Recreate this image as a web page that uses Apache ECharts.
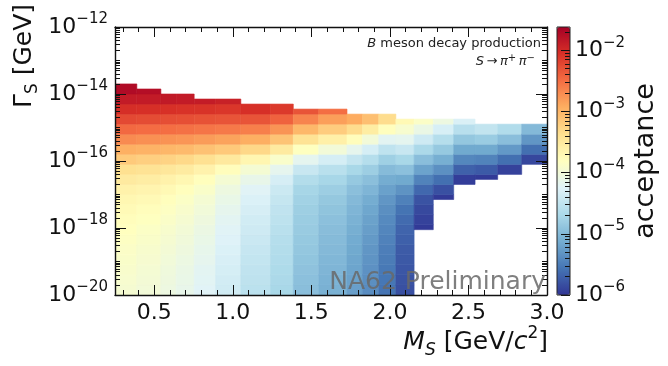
<!DOCTYPE html>
<html>
<head>
<meta charset="utf-8">
<script src="https://cdn.jsdelivr.net/npm/echarts@6/dist/echarts.min.js"></script>
<style>
html,body{margin:0;padding:0;background:#fff;}
#chart{width:668px;height:366px;}
</style>
</head>
<body>
<div id="chart"></div>
<script>
// 质量分箱边界 M_S [GeV/c^2]
var massEdges = [0.25, 0.389, 0.542, 0.639, 0.754, 0.890, 1.051, 1.240, 1.385, 1.547, 1.727,
    1.825, 1.929, 2.038, 2.154, 2.276, 2.406, 2.542, 2.686, 2.839, 3.0];
// log10(Gamma_S) 分箱边界
var gammaEdges = [-20, -19.7, -19.4, -19.1, -18.8, -18.5, -18.2, -17.9, -17.6, -17.3, -17.0,
    -16.7, -16.4, -16.1, -15.8, -15.5, -15.2, -14.9, -14.6, -14.3, -14.0, -13.7];
// 每一列的上下边界 (log10 Gamma)
var colTop = [-13.7, -13.85, -14.0, -14.0, -14.15, -14.15, -14.3, -14.3, -14.45, -14.45,
    -14.6, -14.6, -14.6, -14.75, -14.75, -14.75, -14.75, -14.9, -14.9, -14.9];
var colBottom = [-20, -20, -20, -20, -20, -20, -20, -20, -20, -20, -20, -20, -20, -20,
    -18.05, -17.15, -16.7, -16.55, -16.4, -16.1];
// log10(acceptance)，每列从最下面一行开始
var logAcc = [
    [-3.95, -3.93, -3.91, -3.89, -3.87, -3.84, -3.81, -3.78, -3.74, -3.69, -3.62, -3.52, -3.38, -3.18, -2.95, -2.7, -2.47, -2.24, -2.04, -1.87, -1.72],
    [-4.0, -3.98, -3.96, -3.94, -3.92, -3.89, -3.86, -3.82, -3.78, -3.73, -3.66, -3.56, -3.42, -3.22, -2.98, -2.73, -2.49, -2.26, -2.05, -1.87, -1.75],
    [-4.07, -4.05, -4.03, -4.01, -3.98, -3.95, -3.92, -3.88, -3.84, -3.79, -3.72, -3.62, -3.47, -3.26, -3.01, -2.75, -2.5, -2.27, -2.06, -1.86],
    [-4.14, -4.12, -4.1, -4.08, -4.05, -4.02, -3.99, -3.95, -3.91, -3.86, -3.79, -3.69, -3.53, -3.31, -3.04, -2.77, -2.52, -2.28, -2.07, -1.87],
    [-4.24, -4.22, -4.2, -4.17, -4.15, -4.12, -4.09, -4.05, -4.01, -3.96, -3.89, -3.79, -3.63, -3.39, -3.1, -2.81, -2.55, -2.3, -2.08, -1.88],
    [-4.38, -4.36, -4.34, -4.31, -4.29, -4.26, -4.23, -4.2, -4.16, -4.12, -4.06, -3.96, -3.78, -3.5, -3.17, -2.86, -2.58, -2.32, -2.1, -1.92],
    [-4.55, -4.53, -4.51, -4.49, -4.46, -4.43, -4.4, -4.37, -4.33, -4.29, -4.23, -4.13, -3.96, -3.68, -3.3, -2.94, -2.62, -2.32, -2.05],
    [-4.7, -4.68, -4.66, -4.64, -4.62, -4.6, -4.57, -4.54, -4.51, -4.47, -4.42, -4.33, -4.17, -3.9, -3.52, -3.12, -2.76, -2.42, -2.12],
    [-4.95, -4.93, -4.91, -4.89, -4.87, -4.85, -4.83, -4.81, -4.79, -4.76, -4.72, -4.62, -4.45, -4.18, -3.82, -3.42, -3.02, -2.65, -2.32],
    [-5.08, -5.06, -5.04, -5.02, -5.0, -4.98, -4.96, -4.93, -4.9, -4.86, -4.8, -4.71, -4.57, -4.34, -4.0, -3.6, -3.2, -2.83, -2.5],
    [-5.23, -5.21, -5.19, -5.17, -5.15, -5.13, -5.1, -5.07, -5.04, -5.0, -4.94, -4.85, -4.7, -4.48, -4.16, -3.78, -3.35, -2.92],
    [-5.38, -5.36, -5.34, -5.32, -5.3, -5.27, -5.24, -5.21, -5.17, -5.12, -5.04, -4.94, -4.8, -4.6, -4.34, -4.0, -3.55, -3.08],
    [-5.57, -5.55, -5.53, -5.51, -5.49, -5.46, -5.43, -5.4, -5.36, -5.3, -5.22, -5.12, -4.98, -4.78, -4.52, -4.2, -3.8, -3.35],
    [-5.82, -5.8, -5.78, -5.76, -5.74, -5.71, -5.68, -5.63, -5.57, -5.47, -5.33, -5.15, -4.93, -4.7, -4.45, -4.18, -3.93, -3.72],
    [null, null, null, null, null, null, -5.97, -5.92, -5.87, -5.8, -5.65, -5.45, -5.2, -4.95, -4.68, -4.4, -4.1, -3.87],
    [null, null, null, null, null, null, null, null, null, -5.97, -5.82, -5.6, -5.35, -5.1, -4.85, -4.6, -4.32, -4.07],
    [null, null, null, null, null, null, null, null, null, null, null, -5.95, -5.7, -5.42, -5.15, -4.87, -4.58, -4.3],
    [null, null, null, null, null, null, null, null, null, null, null, -5.97, -5.75, -5.45, -5.15, -4.82, -4.5],
    [null, null, null, null, null, null, null, null, null, null, null, null, -5.92, -5.6, -5.28, -4.95, -4.64],
    [null, null, null, null, null, null, null, null, null, null, null, null, null, -5.88, -5.6, -5.3, -5.0]
];
// 刻度
var xMajor = [0.5, 1.0, 1.5, 2.0, 2.5, 3.0];
var xMinor = [0.3, 0.4, 0.6, 0.7, 0.8, 0.9, 1.1, 1.2, 1.3, 1.4, 1.6, 1.7, 1.8, 1.9,
    2.1, 2.2, 2.3, 2.4, 2.6, 2.7, 2.8, 2.9];
var yLabelExp = [-20, -18, -16, -14, -12];
var cbLabelExp = [-6, -5, -4, -3, -2];
var cbMin = -6, cbMax = -1.62;

var RdYlBu_r = ['#313695', '#4575b4', '#74add1', '#abd9e9', '#e0f3f8', '#ffffbf',
    '#fee090', '#fdae61', '#f46d43', '#d73027', '#a50026'];

var FONT = 'DejaVu Sans';

function pows(exps) {
    return exps.map(function (e) { return Math.pow(10, e); });
}
// 次刻度：2..9 倍，主刻度不是每个十进位时把奇数十进位也算进来
function minors(e0, e1, maxV, skipExps) {
    var arr = [];
    for (var e = e0; e < e1; e++) {
        for (var k = 1; k <= 9; k++) {
            if (k == 1 && skipExps.indexOf(e) >= 0) continue;
            var v = k * Math.pow(10, e);
            if (v <= maxV) arr.push(v);
        }
    }
    return arr;
}
function supLabel(v) {
    var e = Math.round(Math.log10(v));
    return '{b|10}{s|\u2212' + Math.abs(e) + '}';
}
var supRich = {
    b: {fontSize: 22, lineHeight: 30, fontFamily: FONT, color: '#111'},
    s: {fontSize: 15, lineHeight: 15, verticalAlign: 'top', fontFamily: FONT, color: '#111'}
};

// 组装单元格
function buildCells() {
    var cells = [];
    for (var c = 0; c < logAcc.length; c++) {
        for (var r = 0; r < logAcc[c].length; r++) {
            var v = logAcc[c][r];
            if (v == null) continue;
            var g0 = Math.max(gammaEdges[r], colBottom[c]);
            var g1 = Math.min(gammaEdges[r + 1], colTop[c]);
            if (g1 <= g0) continue;
            cells.push([massEdges[c], massEdges[c + 1], Math.pow(10, g0), Math.pow(10, g1), v]);
        }
    }
    return cells;
}

function renderCell(params, api) {
    var p0 = api.coord([api.value(0), api.value(3)]);
    var p1 = api.coord([api.value(1), api.value(2)]);
    var col = api.visual('color');
    return {
        type: 'rect',
        shape: {x: p0[0], y: p0[1], width: p1[0] - p0[0], height: p1[1] - p0[1]},
        style: {fill: col, stroke: col, lineWidth: 0.6}
    };
}

function tickAxis(type, grid, pos, vals, len, withLine) {
    var ax = {
        type: type, gridIndex: grid, position: pos, z: 5,
        axisLine: {show: withLine, onZero: false, lineStyle: {color: '#111', width: 1.4}},
        axisTick: {show: true, inside: true, length: len, customValues: vals,
            lineStyle: {color: '#111', width: 1}},
        axisLabel: {show: false},
        splitLine: {show: false}
    };
    return ax;
}

function drawChart(elem) {
    var myChart = echarts.init(document.getElementById(elem));
    var yMax = Math.pow(10, -12), yMin = Math.pow(10, -20);
    var cbTop = Math.pow(10, cbMax), cbBot = Math.pow(10, cbMin);
    var yMinorVals = minors(-20, -12, 1, yLabelExp);

    var xAxes = [];
    var xb = tickAxis('value', 0, 'bottom', xMajor, 10, true);
    xb.axisLabel = {show: true, customValues: xMajor, fontSize: 22, color: '#111', fontFamily: FONT, margin: 7,
        formatter: function (v) { return v.toFixed(1); }};
    xAxes.push(xb);
    xAxes.push(tickAxis('value', 0, 'bottom', xMinor, 5, false));
    xAxes.push(tickAxis('value', 0, 'top', xMajor, 10, true));
    xAxes.push(tickAxis('value', 0, 'top', xMinor, 5, false));
    for (var i = 0; i < 4; i++) { xAxes[i].min = 0.25; xAxes[i].max = 3.0; }
    xAxes.push({type: 'value', gridIndex: 1, min: 0, max: 1, show: false});

    var yAxes = [];
    var yl = tickAxis('log', 0, 'left', pows(yLabelExp), 11, true);
    yl.axisLabel = {show: true, customValues: pows(yLabelExp), margin: 7, formatter: supLabel, rich: supRich};
    yAxes.push(yl);
    yAxes.push(tickAxis('log', 0, 'left', yMinorVals, 5, false));
    yAxes.push(tickAxis('log', 0, 'right', pows(yLabelExp), 11, true));
    yAxes.push(tickAxis('log', 0, 'right', yMinorVals, 5, false));
    for (var j = 0; j < 4; j++) { yAxes[j].min = yMin; yAxes[j].max = yMax; }

    var cb = tickAxis('log', 1, 'right', pows(cbLabelExp), 9, false);
    cb.axisLabel = {show: true, customValues: pows(cbLabelExp), margin: 5, formatter: supLabel, rich: supRich};
    cb.min = cbBot; cb.max = cbTop; cb.z = 10;
    yAxes.push(cb);
    var cbm = tickAxis('log', 1, 'right', minors(-6, -1, cbTop, cbLabelExp), 5, false);
    cbm.min = cbBot; cbm.max = cbTop; cbm.z = 10;
    yAxes.push(cbm);

    var option = {
        backgroundColor: '#fff',
        animation: false,
        grid: [
            {left: 115, top: 27, width: 432, height: 268},
            {left: 557, top: 27, width: 13, height: 268}
        ],
        xAxis: xAxes,
        yAxis: yAxes,
        visualMap: {
            type: 'continuous',
            min: cbMin, max: cbMax,
            dimension: 4,
            seriesIndex: 0,
            calculable: false,
            realtime: false,
            left: 557, top: 27,
            itemWidth: 13, itemHeight: 268,
            padding: 0,
            text: null,
            showLabel: false,
            inRange: {color: RdYlBu_r}
        },
        series: [{
            type: 'custom',
            xAxisIndex: 0, yAxisIndex: 0,
            renderItem: renderCell,
            encode: {x: [0, 1], y: [2, 3]},
            clip: true,
            z: 2,
            data: buildCells()
        }],
        graphic: [
            {type: 'rect', z: 100, shape: {x: 557, y: 27, width: 13, height: 268},
                style: {fill: 'none', stroke: '#222', lineWidth: 1}},
            {type: 'text', z: 100, x: 24, y: 56, rotation: Math.PI / 2,
                style: {text: '{g|\u0393}{s|S} [GeV]', font: '25px "DejaVu Sans"', fill: '#111',
                    textAlign: 'center', textVerticalAlign: 'middle',
                    rich: {
                        g: {fontSize: 25, lineHeight: 34, fontFamily: FONT, fill: '#111'},
                        s: {fontSize: 17, lineHeight: 17, verticalAlign: 'bottom', fontFamily: FONT, fill: '#111'}
                    }}},
            {type: 'text', z: 100, x: 548, y: 342,
                style: {text: '{i|M}{s|S} [GeV/{i|c}{p|2}]', font: '25px "DejaVu Sans"', fill: '#111',
                    textAlign: 'right', textVerticalAlign: 'middle',
                    rich: {
                        i: {fontSize: 25, lineHeight: 34, fontStyle: 'italic', fontFamily: FONT, fill: '#111'},
                        s: {fontSize: 17, lineHeight: 17, verticalAlign: 'bottom', fontStyle: 'italic', fontFamily: FONT, fill: '#111'},
                        p: {fontSize: 17, lineHeight: 17, verticalAlign: 'top', fontFamily: FONT, fill: '#111'}
                    }}},
            {type: 'text', z: 100, x: 646, y: 161, rotation: Math.PI / 2,
                style: {text: 'acceptance', font: '27px "DejaVu Sans"', fill: '#111',
                    textAlign: 'center', textVerticalAlign: 'middle'}},
            {type: 'text', z: 100, x: 541, y: 44,
                style: {text: '{i|B} meson decay production', font: '13px "DejaVu Sans"', fill: '#222',
                    textAlign: 'right', textVerticalAlign: 'middle',
                    rich: {i: {fontSize: 13, fontStyle: 'italic', fontFamily: FONT, fill: '#222'}}}},
            {type: 'text', z: 100, x: 535, y: 62,
                style: {text: '{i|S}\u2009\u2192\u2009{i|\u03c0}{p|+}\u2009{i|\u03c0}{p|\u2212}', font: '13px "DejaVu Sans"', fill: '#222',
                    textAlign: 'right', textVerticalAlign: 'middle',
                    rich: {
                        i: {fontSize: 13, lineHeight: 17, fontStyle: 'italic', fontFamily: FONT, fill: '#222'},
                        p: {fontSize: 10, lineHeight: 10, verticalAlign: 'top', fontFamily: FONT, fill: '#222'}
                    }}},
            {type: 'text', z: 100, x: 546, y: 282,
                style: {text: 'NA62 Preliminary', font: '25px "DejaVu Sans"', fill: 'rgba(105,105,105,0.85)',
                    textAlign: 'right', textVerticalAlign: 'middle'}}
        ]
    };
    myChart.setOption(option);
}

drawChart('chart');
</script>
</body>
</html>
